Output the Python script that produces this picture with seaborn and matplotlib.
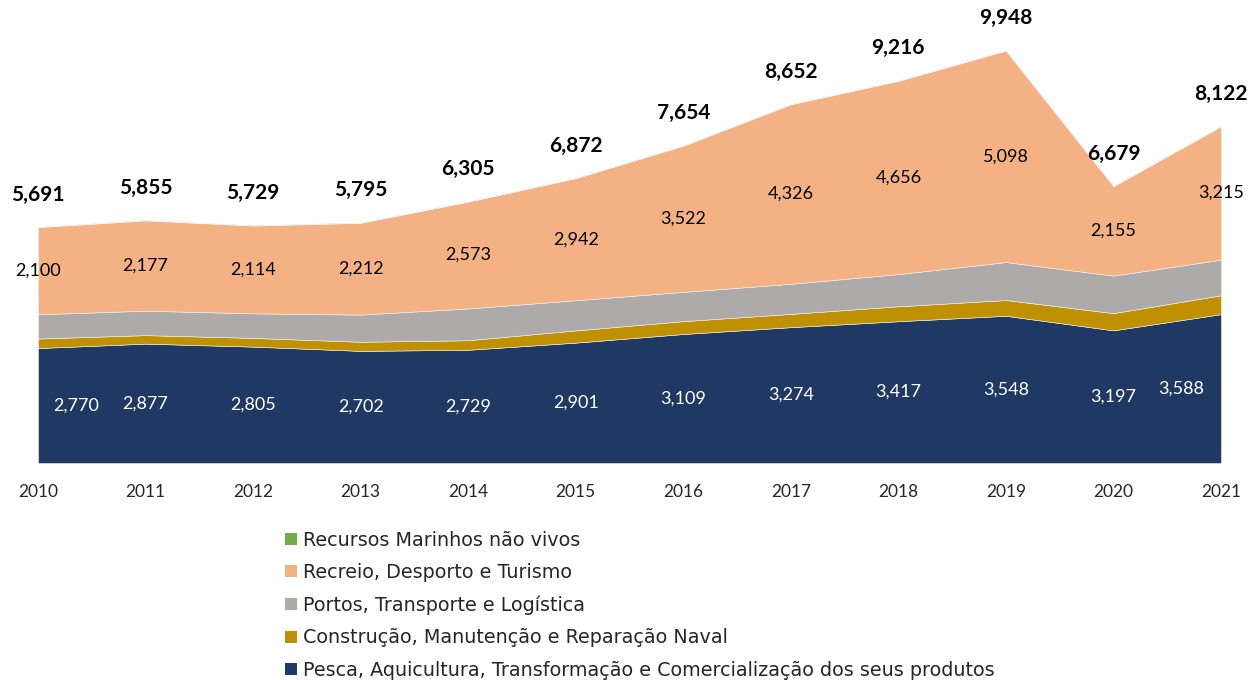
import numpy as np
import pandas as pd
import seaborn as sns
import matplotlib.pyplot as plt
from matplotlib.patches import Patch

# dados
anos = [2010, 2011, 2012, 2013, 2014, 2015, 2016, 2017, 2018, 2019, 2020, 2021]
pesca = [2770, 2877, 2805, 2702, 2729, 2901, 3109, 3274, 3417, 3548, 3197, 3588]
construcao = [230, 205, 210, 220, 230, 295, 310, 320, 360, 380, 415, 455]
portos = [584, 589, 593, 655, 766, 727, 706, 725, 776, 915, 905, 857]
recreio = [2100, 2177, 2114, 2212, 2573, 2942, 3522, 4326, 4656, 5098, 2155, 3215]
recursos = [7, 7, 7, 7, 7, 7, 7, 7, 7, 7, 7, 7]
totais = [5691, 5855, 5729, 5795, 6305, 6872, 7654, 8652, 9216, 9948, 6679, 8122]

nomes = ["Pesca, Aquicultura, Transformação e Comercialização dos seus produtos",
         "Construção, Manutenção e Reparação Naval",
         "Portos, Transporte e Logística",
         "Recreio, Desporto e Turismo",
         "Recursos Marinhos não vivos"]

tabela = pd.DataFrame({nomes[0]: pesca, nomes[1]: construcao, nomes[2]: portos,
                       nomes[3]: recreio, nomes[4]: recursos}, index=anos)

sns.set_style("white")
plt.rcParams['font.family'] = ['Lato', 'DejaVu Sans']
cores = sns.color_palette(["#203864", "#BF9000", "#AEAAAA", "#F4B183", "#70AD47"])

fig = plt.figure(figsize=(12.59, 6.8), dpi=100)
ax = fig.add_axes([38 / 1259, (680 - 463) / 680, (1221 - 38) / 1259, 463 / 680])

ax.stackplot(tabela.index, tabela.T.values, colors=cores, edgecolor="#f2f2f2", linewidth=0.4)
ax.set_xlim(2010, 2021)
ax.set_ylim(0, 11160)
ax.set_yticks([])
ax.set_xticks(anos)
ax.set_xticklabels([str(a) for a in anos], fontsize=12.5)
ax.tick_params(axis="x", length=0, pad=15)
sns.despine(ax=ax, left=True, bottom=True)

# rotulos
base_recreio = np.array(pesca) + np.array(construcao) + np.array(portos)
for i, a in enumerate(anos):
    dx = 0
    if a == 2021:
        dx = -0.37
    if a == 2010:
        dx = 0.35
    ax.text(a + dx, pesca[i] / 2, f"{pesca[i]:,}", color="white", ha="center", va="center", fontsize=13)
    ax.text(a, base_recreio[i] + recreio[i] / 2, f"{recreio[i]:,}", color="black",
            ha="center", va="center", fontsize=13, clip_on=False)
    ax.text(a, totais[i] + 780, f"{totais[i]:,}", color="black", ha="center", va="center",
            fontsize=15, fontweight="bold", clip_on=False)

# legenda
handles = [Patch(facecolor=cores[k], edgecolor="none") for k in range(5)][::-1]
fig.legend(handles, nomes[::-1], loc="upper left", bbox_to_anchor=(0.213, 0.245),
           frameon=False, handlelength=0.6, handleheight=0.6,
           handletextpad=0.3, labelspacing=0.7,
           prop={"family": ["DejaVu Sans"], "size": 13.8})

fig.savefig("out.png", dpi=100)
